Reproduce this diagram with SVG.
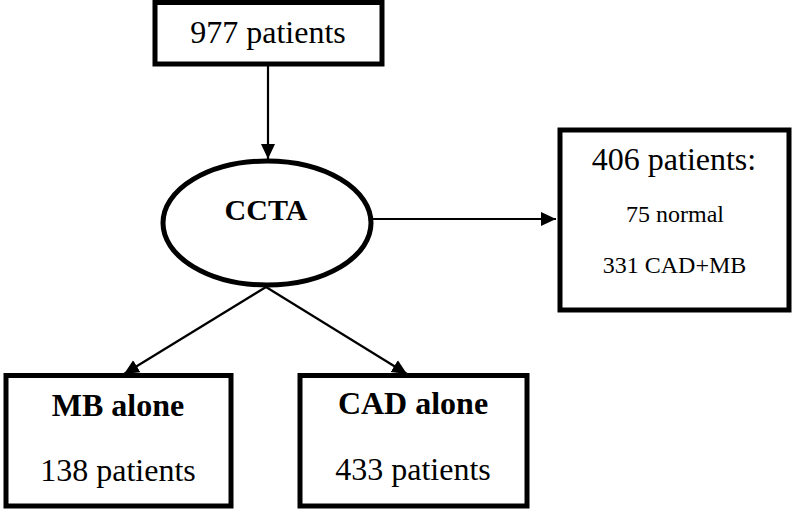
<svg xmlns="http://www.w3.org/2000/svg" width="792" height="511" viewBox="0 0 792 511">
<style>
.box{fill:#fff;stroke:#000;stroke-width:5}
.t{font-family:"Liberation Serif","Times New Roman",serif;fill:#000;text-anchor:middle}
.b{font-weight:bold}
.c{fill:none;stroke:#000;stroke-width:2.2}
</style>
<defs>
<marker id="ah" markerUnits="userSpaceOnUse" markerWidth="16" markerHeight="16" viewBox="0 0 16 16" refX="15" refY="8" orient="auto">
<path d="M0,1 L15,8 L0,15 Z" fill="#000"/>
</marker>
</defs>
<rect width="792" height="511" fill="#fff"/>
<g id="connectors">
<line class="c" x1="268" y1="64" x2="268" y2="159" marker-end="url(#ah)"/>
<line class="c" x1="372" y1="219" x2="556" y2="219" marker-end="url(#ah)"/>
<line class="c" x1="266" y1="287" x2="124" y2="374" marker-end="url(#ah)"/>
<line class="c" x1="266" y1="287" x2="407" y2="374" marker-end="url(#ah)"/>
</g>
<g id="n977">
<rect class="box" x="155" y="2.5" width="227" height="61.5"/>
<text class="t" x="268" y="43" font-size="32">977 patients</text>
</g>
<g id="ccta">
<ellipse cx="267" cy="223" rx="104" ry="62" fill="#fff" stroke="#000" stroke-width="5"/>
<text class="t b" x="266" y="220" font-size="30">CCTA</text>
</g>
<g id="n406">
<rect class="box" x="560" y="130" width="229" height="180"/>
<text class="t" x="674" y="170" font-size="32">406 patients:</text>
<text class="t" x="675" y="222" font-size="24">75 normal</text>
<text class="t" x="674.5" y="273" font-size="24">331 CAD+MB</text>
</g>
<g id="mb">
<rect class="box" x="6" y="375.5" width="225" height="130.5"/>
<text class="t b" x="118" y="416" font-size="32">MB alone</text>
<text class="t" x="118" y="481" font-size="32">138 patients</text>
</g>
<g id="cad">
<rect class="box" x="300" y="375.5" width="227" height="130.5"/>
<text class="t b" x="413" y="414" font-size="32">CAD alone</text>
<text class="t" x="413" y="480" font-size="32">433 patients</text>
</g>
</svg>
